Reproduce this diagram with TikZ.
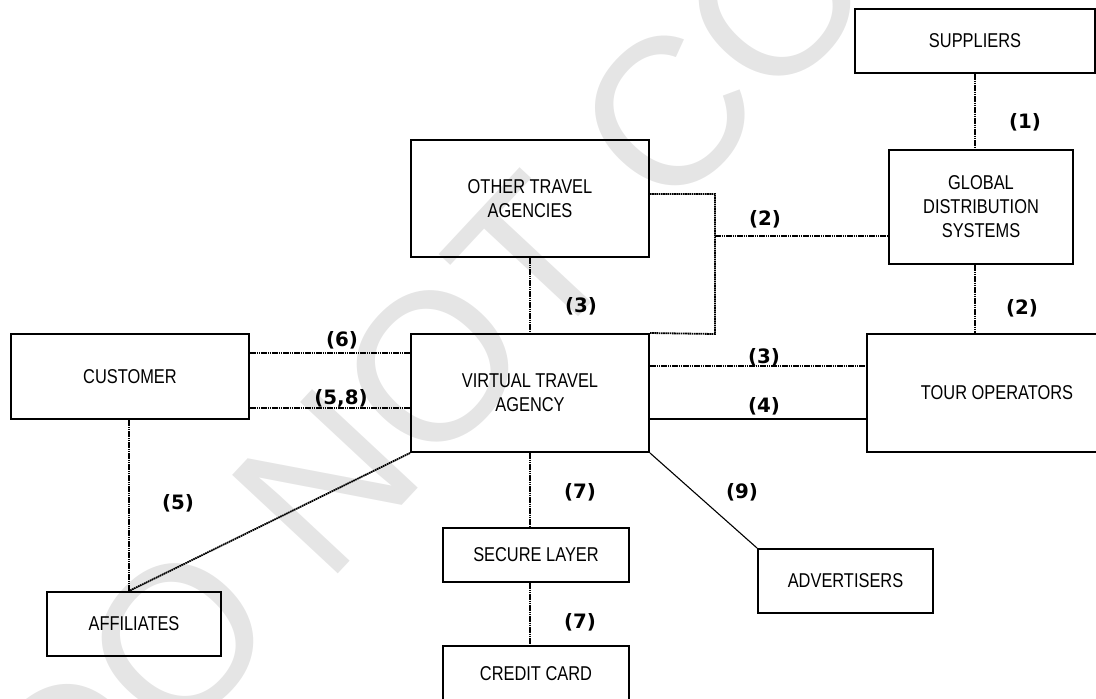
\documentclass[tikz,border=0pt]{standalone}
\usepackage{fontspec}
\setmainfont{Liberation Sans}
\newfontfamily\boxfont{Liberation Sans}[FakeStretch=0.82]
\newfontfamily\labfont{DejaVu Sans}
\newfontfamily\wmfont{Liberation Sans}
\begin{document}
\begin{tikzpicture}[x=0.5pt,y=-0.5pt,
  box/.style={draw=black,line width=1pt,inner sep=0pt,align=center,
    font=\boxfont\fontsize{10}{12}\selectfont},
  lab/.style={font=\labfont\bfseries\fontsize{9.9}{11}\selectfont,inner sep=0pt},
  dotline/.style={line width=0.9pt,dash pattern=on 0.8pt off 0.3pt},
  solidline/.style={line width=0.85pt},
  thinline/.style={line width=0.55pt},
  wm/.style={text=black!10,font=\wmfont\fontsize{105}{105}\selectfont,inner sep=0pt}]
\useasboundingbox (0,0) rectangle (1096,698);
% watermark
\node[wm,rotate=47,anchor=base west] (wmark) at (72,860) {DO NOT COPY};
% boxes
\node[box,minimum width=120pt,minimum height=32pt] (sup) at (975,41) {SUPPLIERS};
\node[box,minimum width=92pt,minimum height=57pt] (gds) at (981,207) {GLOBAL\\DISTRIBUTION\\SYSTEMS};
\node[box,minimum width=119pt,minimum height=58.5pt] (ota) at (530,198.5) {OTHER TRAVEL\\AGENCIES};
\node[box,minimum width=119pt,minimum height=59pt] (vta) at (530,393) {VIRTUAL TRAVEL\\AGENCY};
\node[box,minimum width=130pt,minimum height=59pt] (tour) at (997,393) {TOUR OPERATORS};
\node[box,minimum width=119pt,minimum height=42.5pt] (cust) at (130,376.5) {CUSTOMER};
\node[box,minimum width=87pt,minimum height=32pt] (aff) at (134,624) {AFFILIATES};
\node[box,minimum width=93pt,minimum height=27pt] (sec) at (536,555) {SECURE LAYER};
\node[box,minimum width=93pt,minimum height=28pt] (cc) at (536,674) {CREDIT CARD};
\node[box,minimum width=87.5pt,minimum height=32pt] (adv) at (845.5,581) {ADVERTISERS};
% junction coordinates
\coordinate (j2) at (715,236);
\coordinate (j3) at (715,334);
% connectors
\draw[dotline] (sup.south) -- (sup.south |- gds.north);
\draw[dotline] ([xshift=-3pt]gds.south) -- ([xshift=-3pt]gds.south |- tour.north);
\draw[dotline] ([yshift=2.25pt]ota.east) -| (j3) -- (vta.north east);
\draw[dotline] (j2) -- (j2 -| gds.west);
\draw[dotline] (ota.south) -- (vta.north);
\draw[dotline] ([yshift=13.5pt]vta.east) -- ([yshift=13.5pt]vta.east -| tour.west);
\draw[solidline] ([yshift=-13pt]vta.east) -- ([yshift=-13pt]vta.east -| tour.west);
\draw[dotline] ([yshift=11.75pt]cust.east) -- ([yshift=11.75pt]cust.east -| vta.west);
\draw[dotline] ([yshift=-15.75pt]cust.east) -- ([yshift=-15.75pt]cust.east -| vta.west);
\draw[dotline] ([xshift=-0.5pt]cust.south) -- ([xshift=-0.5pt]cust.south |- aff.north);
\draw[dotline] (vta.south west) -- ([xshift=-0.5pt]cust.south |- aff.north);
\draw[dotline] (vta.south) -- (vta.south |- sec.north);
\draw[dotline] (vta.south |- sec.south) -- (vta.south |- cc.north);
\draw[thinline] (vta.south east) -- (adv.north west);
% labels
\node[lab] (l1) at (1025,122) {(1)};
\node[lab] (l2a) at (765,219) {(2)};
\node[lab] (l2b) at (1022,308) {(2)};
\node[lab] (l3a) at (581,306) {(3)};
\node[lab] (l3b) at (764,357) {(3)};
\node[lab] (l4) at (764,406) {(4)};
\node[lab] (l6) at (342,340) {(6)};
\node[lab] (l58) at (341,398) {(5,8)};
\node[lab] (l5) at (178,503) {(5)};
\node[lab] (l7a) at (580,492) {(7)};
\node[lab] (l7b) at (580,622) {(7)};
\node[lab] (l9) at (742,492) {(9)};
\end{tikzpicture}
\end{document}
